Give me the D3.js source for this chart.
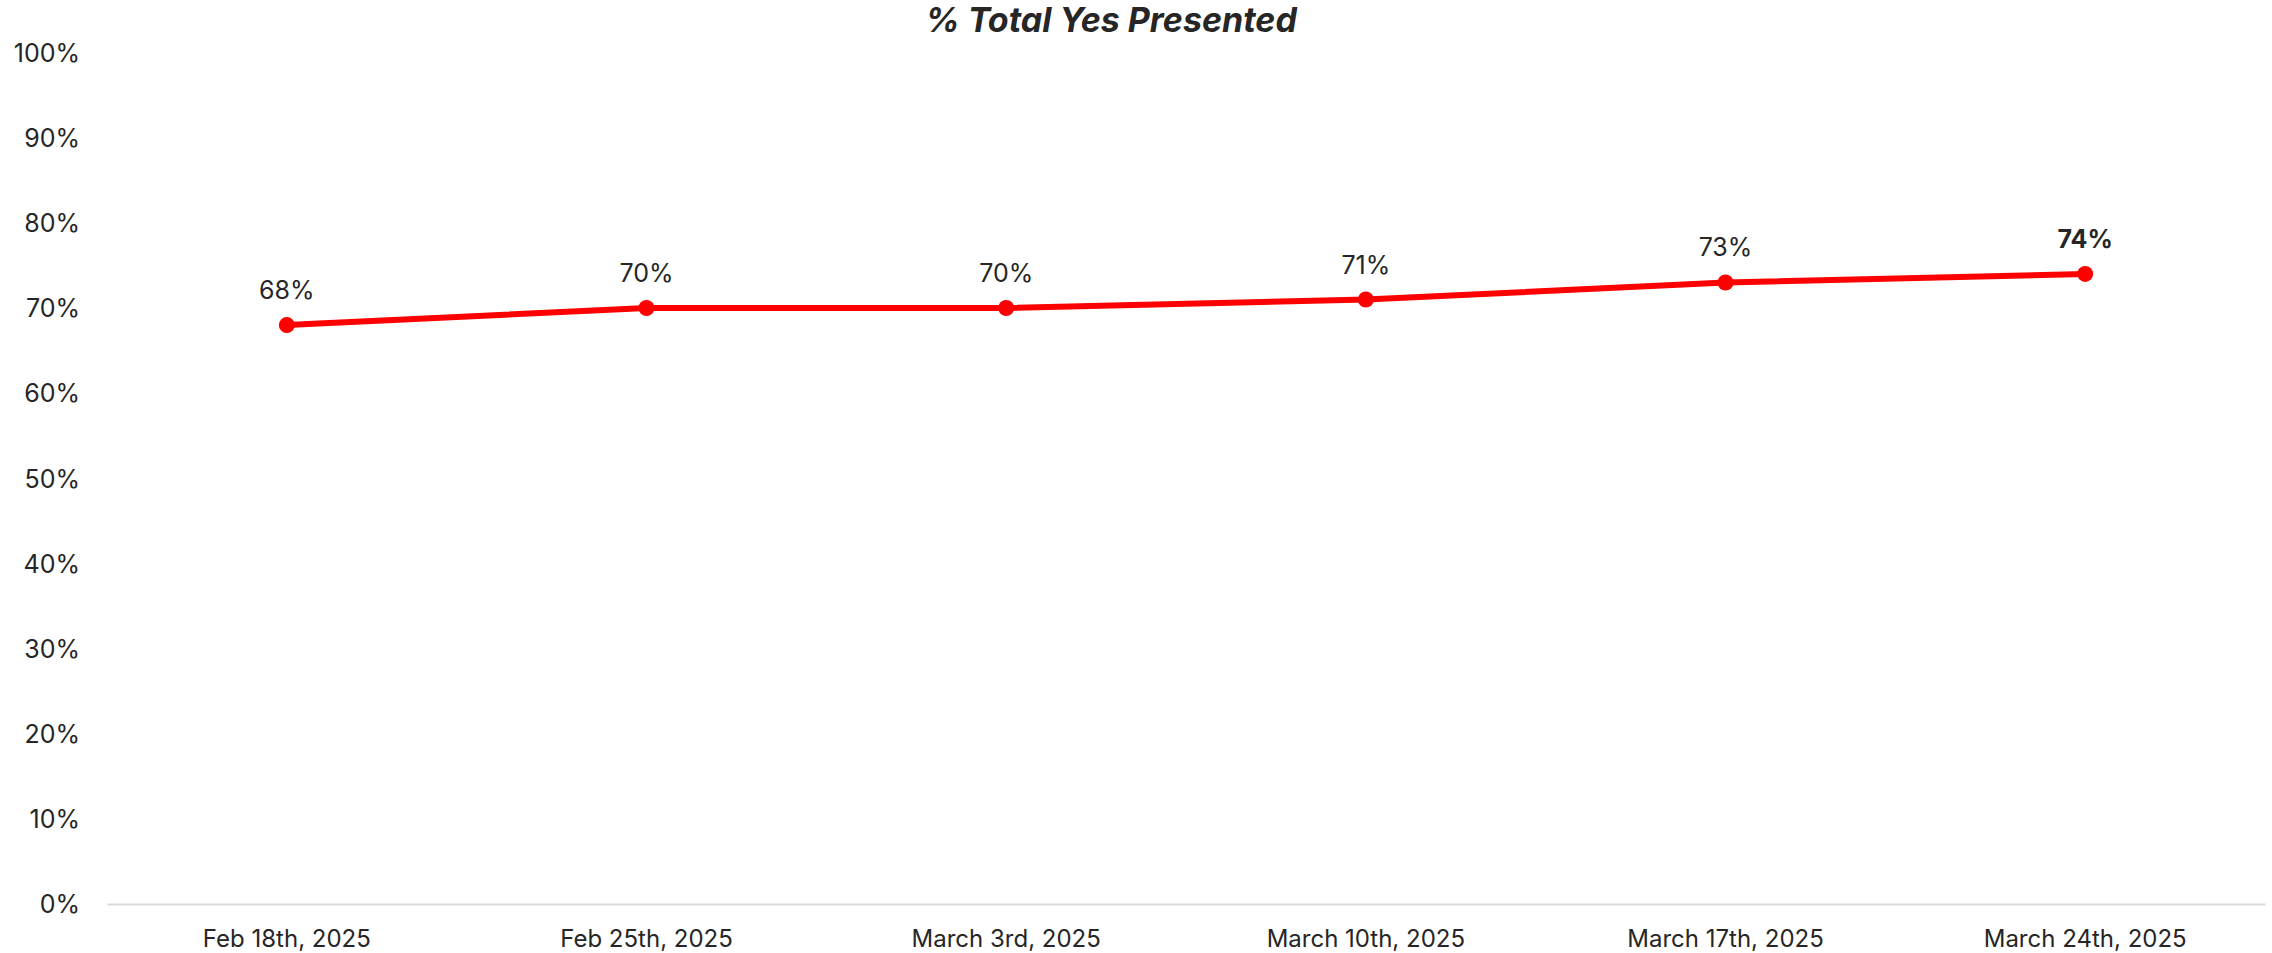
<!DOCTYPE html>
<html>
<head>
<meta charset="utf-8">
<script src="https://cdn.jsdelivr.net/npm/d3@7"></script>
<style>
html,body{margin:0;padding:0;background:#fff;}
svg{display:block;}
text{font-family:Inter,"Open Sans",sans-serif;}
</style>
</head>
<body>
<svg id="chart" width="2272" height="953"></svg>
<script>
const categories = ["Feb 18th, 2025","Feb 25th, 2025","March 3rd, 2025","March 10th, 2025","March 17th, 2025","March 24th, 2025"];
const values = [0.68, 0.70, 0.70, 0.71, 0.73, 0.74];
const yTicks = [0,0.1,0.2,0.3,0.4,0.5,0.6,0.7,0.8,0.9,1.0];
const title = "% Total Yes Presented";

const svg = d3.select("#chart");
const x = d3.scaleBand().domain(categories).range([107, 2265]);
const y = d3.scaleLinear().domain([0,1]).range([904, 52.6]);
const textColor = "#262626";

// title
svg.append("text").attr("x", 1111).attr("y", 32)
  .attr("text-anchor","middle").attr("font-size",34).attr("font-weight",700)
  .attr("font-style","italic").attr("fill",textColor).text(title);

// y axis labels
const yAxis = d3.axisLeft(y).tickValues(yTicks).tickFormat(d3.format(".0%")).tickSize(0).tickPadding(0);
const gy = svg.append("g").attr("transform","translate(80,0)").call(yAxis);
gy.select(".domain").remove();
gy.selectAll("text").attr("font-size",25).attr("fill",textColor).attr("font-family","Inter,'Open Sans',sans-serif").attr("dy","0.35em");

// x axis
const xAxis = d3.axisBottom(x).tickSize(0).tickPadding(0);
const gx = svg.append("g").attr("transform","translate(0,904)").call(xAxis);
gx.select(".domain").attr("stroke","#d9d9d9").attr("stroke-width",2);
gx.selectAll("text").attr("font-size",24).attr("fill",textColor).attr("font-family","Inter,'Open Sans',sans-serif").attr("dy",0).attr("y",43);

const cx = d => x(d) + x.bandwidth()/2;
const data = categories.map((c,i)=>({c, v: values[i]}));

const line = d3.line().x(d=>cx(d.c)).y(d=>y(d.v));
svg.append("path").datum(data).attr("d",line).attr("fill","none")
  .attr("stroke","#ff0000").attr("stroke-width",6).attr("stroke-linejoin","round").attr("stroke-linecap","round");

svg.append("g").selectAll("circle").data(data).join("circle")
  .attr("cx",d=>cx(d.c)).attr("cy",d=>y(d.v)).attr("r",8).attr("fill","#ff0000");

svg.append("g").selectAll("text").data(data).join("text")
  .attr("x",d=>cx(d.c)).attr("y",d=>y(d.v)-26)
  .attr("text-anchor","middle").attr("font-size",25).attr("fill",textColor)
  .attr("font-weight",(d,i)=> i===data.length-1 ? 700 : 400)
  .text(d=>d3.format(".0%")(d.v));
</script>
</body>
</html>
